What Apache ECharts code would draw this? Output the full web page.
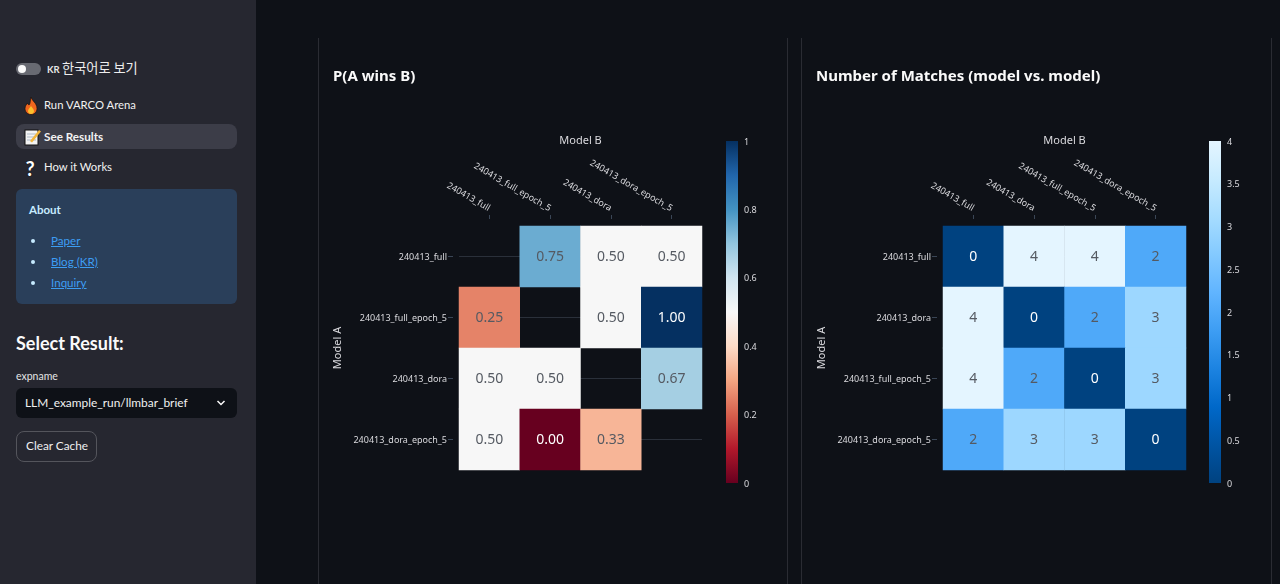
<!DOCTYPE html>
<html><head><meta charset="utf-8">
<script src="https://cdn.jsdelivr.net/npm/echarts@6/dist/echarts.min.js"></script>
<style>
html,body{margin:0;padding:0;width:1280px;height:584px;overflow:hidden;background:#0e1117;font-family:"Lato","Noto Sans CJK KR",sans-serif;color:#fafafa}
#chart{position:absolute;left:0;top:0;width:1280px;height:584px}
#side{position:absolute;left:0;top:0;width:256px;height:584px;background:#262730}
#side div,#side a,#side span,#side svg{position:absolute;white-space:nowrap}
.vl{position:absolute;top:38px;bottom:0;width:1px;background:#2a2c33}
.nav{left:44px;font-size:11.300px;line-height:16px;color:#f2f2f2}
.lnk{left:51px;font-size:11.600px;line-height:16px;color:#3d9df3;text-decoration:underline}
.dot{left:31px;width:4px;height:4px;border-radius:50%;background:#c7ebff}
</style></head><body>
<div id="chart"></div>
<div class="vl" style="left:318px"></div><div class="vl" style="left:787px"></div>
<div class="vl" style="left:801px"></div><div class="vl" style="left:1271px"></div>
<div id="side">
 <div style="left:16px;top:63px;width:25px;height:12px;border-radius:6px;background:#686a72"></div>
 <div style="left:18px;top:65px;width:8px;height:8px;border-radius:50%;background:#fafafa"></div>
 <div style="left:47px;top:62px;font-size:9.500px;line-height:16px;color:#e6e6e6;font-weight:700">KR</div>
 <div style="left:62px;top:59px;font-size:13.200px;line-height:18px;color:#eee;font-family:'Noto Sans CJK KR'">한국어로 보기</div>
 <svg style="left:24px;top:97px" width="14" height="18" viewBox="0 0 14 18"><path d="M7 0C8 4 13 6 13 11.500C13 15 10.500 17.500 7 17.500C3.500 17.500 1 15 1 11.500C1 9 2.500 7.500 3.500 6C4 8 5 8 5.500 7.500C6.500 5.500 6 3 7 0Z" fill="#f0661e" stroke="#111" stroke-width=".7"/><path d="M7 9C8 11 10 12 10 14C10 16 8.500 17 7 17C5.500 17 4 16 4 14C4 12 6 11 7 9Z" fill="#fbc02d"/></svg>
 <div class="nav" style="top:97px">Run VARCO Arena</div>
 <div style="left:16px;top:124px;width:221px;height:25px;border-radius:8px;background:#3c3d48"></div>
 <svg style="left:24px;top:128px" width="18" height="18" viewBox="0 0 18 18"><rect x="1" y="2" width="13" height="15" fill="#f3f3f3" stroke="#111"/><path d="M3 6h9M3 9h9M3 12h9" stroke="#9ab" stroke-width=".8"/><path d="M6 13L15 2l2 1.500L8 14.500Z" fill="#f2b63c"/></svg>
 <div class="nav" style="top:128px;font-weight:700;font-size:11.700px">See Results</div>
 <div style="left:24px;top:156px;width:12px;text-align:center;font-size:20px;line-height:24px;font-weight:700;color:#fff;text-shadow:0 0 1px #000">?</div>
 <div class="nav" style="top:159px">How it Works</div>
 <div style="left:16px;top:189px;width:221px;height:115px;border-radius:6px;background:#2a3f5a"></div>
 <div style="left:29px;top:202px;font-size:11.500px;line-height:16px;font-weight:700;color:#c7ebff">About</div>
 <div class="dot" style="top:239px"></div><a class="lnk" style="top:233px">Paper</a>
 <div class="dot" style="top:260px"></div><a class="lnk" style="top:254px">Blog (KR)</a>
 <div class="dot" style="top:281px"></div><a class="lnk" style="top:275px">Inquiry</a>
 <div style="left:16px;top:331px;font-size:18px;line-height:24px;font-weight:700;color:#fafafa">Select Result:</div>
 <div style="left:16px;top:368px;font-size:10.500px;line-height:16px;color:#e4e4e4">expname</div>
 <div style="left:16px;top:388px;width:221px;height:30px;border-radius:6px;background:#0e1117"></div>
 <div style="left:25px;top:395px;font-size:11.900px;line-height:16px;color:#f0f0f0">LLM_example_run/llmbar_brief</div>
 <svg style="left:216px;top:400px" width="10" height="6" viewBox="0 0 10 6"><path d="M1.500 1L5 4.500L8.500 1" fill="none" stroke="#fafafa" stroke-width="1.500"/></svg>
 <div style="left:16px;top:431px;width:79px;height:29px;border:1px solid #54555c;border-radius:8px"></div>
 <div style="left:26px;top:438px;font-size:11.800px;line-height:16px;color:#f0f0f0">Clear Cache</div>
</div>
<script>
const winCategories = ['240413_full','240413_full_epoch_5','240413_dora','240413_dora_epoch_5'];
const winValues = [
  [null,0.75,0.5,0.5],
  [0.25,null,0.5,1.0],
  [0.5,0.5,null,0.67],
  [0.5,0.0,0.33,null]
];
const matchCategories = ['240413_full','240413_dora','240413_full_epoch_5','240413_dora_epoch_5'];
const matchValues = [
  [0,4,4,2],
  [4,0,2,3],
  [4,2,0,3],
  [2,3,3,0]
];
const rdBu = ['#67001f','#b2182b','#d6604d','#f4a582','#fddbc7','#f7f7f7','#d1e5f0','#92c5de','#4393c3','#2166ac','#053061'];
const blues = ['#004280','#0054a3','#0068c9','#1c83e1','#3d9df3','#60b4ff','#83c9ff','#a6dcff','#c7ebff','#e4f5ff'];

const FONT = '"Noto Sans",sans-serif';
const TXT = '#dadade', TICK = '#3a4656';
const chart = echarts.init(document.getElementById('chart'), null, {renderer:'canvas'});

function cells(m, darkTest){
  const out = [];
  m.forEach((r,y)=>r.forEach((v,x)=>{
    if(v===null) return;
    out.push({value:[x,y,v], label:{color: darkTest(v) ? '#ffffff' : '#555a62'}});
  }));
  return out;
}
function gradient(cols){
  return new echarts.graphic.LinearGradient(0,1,0,0,cols.map((c,i)=>({offset:i/(cols.length-1),color:c})));
}
const L = 459, W = 243, T = 226, H = 244, BT = 141, BH = 342;
const panels = [
 {x:L, barX:726, cats:winCategories, m:winValues, cols:rdBu, max:1, step:0.2, digits:2, dark:v=>v<=0.1||v>=0.9},
 {x:943, barX:1209, cats:matchCategories, m:matchValues, cols:blues, max:4, step:0.5, digits:0, dark:v=>v<1}
];
const lowered = {t:{padding:[2,0,0,0],color:TXT,fontFamily:FONT,fontSize:9}};
const option = {
  backgroundColor:'#0e1117', animation:false,
  title:[
    {text:'P(A wins B)',left:333,top:69,padding:0,textStyle:{fontFamily:FONT,fontSize:15,fontWeight:'bold',color:'#fafafa'}},
    {text:'Number of Matches (model vs. model)',left:816,top:69,padding:0,textStyle:{fontFamily:FONT,fontSize:15,fontWeight:'bold',color:'#fafafa'}}
  ],
  grid:[],xAxis:[],yAxis:[],series:[],visualMap:[]
};
panels.forEach((p,i)=>{
  const g = i*2, b = i*2+1;
  option.grid.push({left:p.x,top:T,width:W,height:H,containLabel:false});
  option.grid.push({left:p.barX,top:BT,width:12,height:BH,containLabel:false});
  option.xAxis.push({
    type:'category',gridIndex:g,data:p.cats,position:'top',offset:7,
    name:'Model B',nameLocation:'middle',nameGap:73,
    nameTextStyle:{color:TXT,fontFamily:FONT,fontSize:11},
    axisLine:{show:false},axisTick:{show:true,alignWithLabel:true,length:4,lineStyle:{color:TICK}},
    axisLabel:{rotate:30,interval:0,margin:10,color:TXT,fontFamily:FONT,fontSize:9},splitLine:{show:false}
  });
  option.yAxis.push({
    type:'category',gridIndex:g,data:p.cats,inverse:true,offset:6,
    name:'Model A',nameLocation:'middle',nameGap:110,
    nameTextStyle:{color:TXT,fontFamily:FONT,fontSize:11},
    axisLine:{show:false},axisTick:{show:true,alignWithLabel:true,length:5,lineStyle:{color:TICK}},
    axisLabel:{interval:0,margin:6,formatter:v=>'{t|'+v+'}',rich:lowered},splitLine:{show:false}
  });
  option.xAxis.push({type:'category',gridIndex:b,data:['c'],show:false});
  option.yAxis.push({
    type:'value',gridIndex:b,min:0,max:p.max,interval:p.step,position:'right',
    axisLine:{show:false},axisTick:{show:false},splitLine:{show:false},
    axisLabel:{margin:6,formatter:v=>'{t|'+v+'}',rich:lowered}
  });
  option.visualMap.push({type:'continuous',show:false,seriesIndex:option.series.length+1,dimension:2,min:0,max:p.max,inRange:{color:p.cols}});
  // row gridlines, visible only through the empty cells
  option.series.push({
    type:'custom',xAxisIndex:g,yAxisIndex:g,z:1,silent:true,
    data:p.cats.map((c,k)=>[0,k]),
    renderItem:(params,api)=>{
      const c = api.coord([0,api.value(1)]);
      const bw = api.size([1,0])[0];
      return {type:'line',shape:{x1:c[0]-bw/2,y1:c[1],x2:c[0]-bw/2+bw*p.cats.length,y2:c[1]},style:{stroke:'#2a303a',lineWidth:1}};
    }
  });
  option.series.push({
    type:'heatmap',xAxisIndex:g,yAxisIndex:g,z:2,
    data:cells(p.m,p.dark),
    label:{show:true,fontFamily:FONT,fontSize:14,offset:[0,1],
      formatter:d=>d.value[2].toFixed(p.digits)},
    itemStyle:{borderWidth:0},emphasis:{disabled:true}
  });
  option.series.push({
    type:'bar',xAxisIndex:b,yAxisIndex:b,barWidth:'100%',silent:true,
    data:[p.max],itemStyle:{color:gradient(p.cols)}
  });
});
chart.setOption(option);
</script>
</body></html>
